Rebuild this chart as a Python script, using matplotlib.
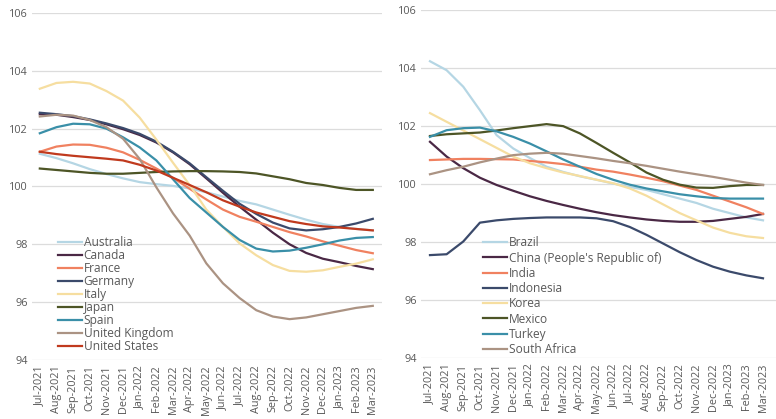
import matplotlib
matplotlib.use('Agg')
import matplotlib.pyplot as plt

months = ['Jul-2021', 'Aug-2021', 'Sep-2021', 'Oct-2021', 'Nov-2021', 'Dec-2021',
          'Jan-2022', 'Feb-2022', 'Mar-2022', 'Apr-2022', 'May-2022', 'Jun-2022',
          'Jul-2022', 'Aug-2022', 'Sep-2022', 'Oct-2022', 'Nov-2022', 'Dec-2022',
          'Jan-2023', 'Feb-2023', 'Mar-2023']

# left panel: advanced economies
australia = [101.13, 100.98, 100.8, 100.6, 100.43, 100.28, 100.15, 100.08, 100.02, 99.93, 99.8,
             99.65, 99.5, 99.38, 99.2, 99.02, 98.85, 98.7, 98.6, 98.53, 98.48]
canada = [102.5, 102.48, 102.4, 102.3, 102.15, 101.98, 101.78, 101.52, 101.18, 100.77, 100.28,
          99.78, 99.3, 98.85, 98.4, 98.0, 97.7, 97.5, 97.38, 97.25, 97.14]
france = [101.2, 101.38, 101.45, 101.44, 101.34, 101.18, 100.92, 100.62, 100.3, 99.92, 99.55,
          99.2, 98.95, 98.78, 98.6, 98.42, 98.27, 98.1, 97.95, 97.8, 97.69]
germany = [102.55, 102.5, 102.43, 102.32, 102.18, 102.02, 101.82, 101.55, 101.2, 100.8, 100.32,
           99.85, 99.4, 99.05, 98.75, 98.55, 98.48, 98.52, 98.6, 98.72, 98.88]
italy = [103.38, 103.58, 103.62, 103.56, 103.3, 102.97, 102.38, 101.62, 100.82, 100.05, 99.2,
         98.6, 98.03, 97.62, 97.28, 97.08, 97.05, 97.1, 97.22, 97.33, 97.48]
japan = [100.62, 100.57, 100.52, 100.47, 100.44, 100.44, 100.47, 100.5, 100.52, 100.53, 100.53,
         100.52, 100.5, 100.45, 100.35, 100.25, 100.12, 100.05, 99.95, 99.88, 99.88]
spain = [101.84, 102.05, 102.17, 102.15, 102.0, 101.7, 101.35, 100.9, 100.25, 99.6, 99.1,
         98.6, 98.15, 97.85, 97.75, 97.78, 97.88, 98.0, 98.13, 98.22, 98.25]
uk = [102.42, 102.48, 102.45, 102.3, 102.05, 101.65, 100.95, 99.97, 99.07, 98.3, 97.34,
      96.65, 96.14, 95.72, 95.5, 95.41, 95.47, 95.58, 95.69, 95.8, 95.87]
us = [101.2, 101.12, 101.06, 101.01, 100.96, 100.9, 100.75, 100.55, 100.3, 100.05, 99.8,
      99.52, 99.3, 99.1, 98.95, 98.8, 98.7, 98.62, 98.58, 98.53, 98.48]

# right panel: emerging economies
brazil = [104.24, 103.93, 103.36, 102.55, 101.69, 101.23, 100.9, 100.6, 100.42, 100.27, 100.15,
          100.02, 99.9, 99.8, 99.65, 99.5, 99.35, 99.15, 99.0, 98.85, 98.75]
china = [101.46, 100.95, 100.55, 100.22, 99.97, 99.77, 99.58, 99.42, 99.28, 99.15, 99.03,
         98.93, 98.85, 98.78, 98.73, 98.7, 98.7, 98.73, 98.8, 98.87, 98.97]
india = [100.83, 100.85, 100.87, 100.87, 100.86, 100.85, 100.8, 100.75, 100.69, 100.6, 100.5,
         100.43, 100.33, 100.22, 100.1, 99.95, 99.8, 99.6, 99.4, 99.2, 98.97]
indonesia = [97.55, 97.58, 98.02, 98.67, 98.75, 98.8, 98.83, 98.85, 98.85, 98.85, 98.82,
             98.72, 98.52, 98.25, 97.95, 97.65, 97.38, 97.15, 96.98, 96.85, 96.75]
korea = [102.45, 102.15, 101.85, 101.55, 101.25, 100.95, 100.72, 100.55, 100.4, 100.28, 100.15,
         100.03, 99.85, 99.6, 99.3, 99.0, 98.75, 98.5, 98.32, 98.2, 98.14]
mexico = [101.66, 101.72, 101.75, 101.78, 101.85, 101.93, 102.0, 102.07, 102.0, 101.75, 101.42,
          101.08, 100.75, 100.4, 100.15, 99.98, 99.88, 99.87, 99.93, 99.97, 99.97]
turkey = [101.63, 101.86, 101.93, 101.95, 101.82, 101.63, 101.4, 101.13, 100.85, 100.6, 100.35,
          100.15, 99.98, 99.85, 99.75, 99.65, 99.58, 99.52, 99.5, 99.5, 99.5]
south_africa = [100.34, 100.48, 100.6, 100.75, 100.88, 101.0, 101.05, 101.08, 101.05, 100.97, 100.89,
                100.8, 100.72, 100.63, 100.53, 100.43, 100.34, 100.25, 100.15, 100.05, 99.97]

left_series = [('Australia', australia, '#b5d6e4'),
               ('Canada', canada, '#4a2845'),
               ('France', france, '#f08160'),
               ('Germany', germany, '#3b4a6b'),
               ('Italy', italy, '#f6dea0'),
               ('Japan', japan, '#4d5526'),
               ('Spain', spain, '#3a8fa8'),
               ('United Kingdom', uk, '#ab9383'),
               ('United States', us, '#c03a1e')]

right_series = [('Brazil', brazil, '#b5d6e4'),
                ('China (People\'s Republic of)', china, '#4a2845'),
                ('India', india, '#f08160'),
                ('Indonesia', indonesia, '#3b4a6b'),
                ('Korea', korea, '#f6dea0'),
                ('Mexico', mexico, '#4d5526'),
                ('Turkey', turkey, '#3a8fa8'),
                ('South Africa', south_africa, '#ab9383')]

plt.rcParams['font.family'] = ['Open Sans', 'DejaVu Sans']
text_col = '#595959'

fig = plt.figure(figsize=(7.76, 4.19), dpi=100)
ax1 = fig.add_axes([0.041, 0.141, 0.451, 0.828])
ax2 = fig.add_axes([0.5425, 0.1456, 0.4575, 0.830])

x = list(range(len(months)))


def style(ax, xlo, xhi):
    ax.set_ylim(94, 106)
    ax.set_xlim(xlo, xhi)
    ax.set_yticks([94, 96, 98, 100, 102, 104, 106])
    ax.set_xticks(x)
    ax.set_xticklabels(months, rotation=90)
    ax.tick_params(axis='both', length=0, colors=text_col, labelsize=7.8)
    ax.tick_params(axis='x', pad=4)
    ax.tick_params(axis='y', pad=3)
    ax.grid(axis='y', color='#dcdcdc', linewidth=0.9)
    ax.set_axisbelow(True)
    for s in ax.spines.values():
        s.set_visible(False)


for name, vals, col in left_series:
    ax1.plot(x, vals, color=col, linewidth=1.6, label=name)
for name, vals, col in right_series:
    ax2.plot(x, vals, color=col, linewidth=1.6, label=name)

style(ax1, -0.48, 20.54)
style(ax2, -0.54, 20.78)

leg1 = ax1.legend(loc='upper left', bbox_to_anchor=(0.075, 0.357), frameon=False,
                  fontsize=8.6, handlelength=2.0, handletextpad=0.15,
                  labelspacing=0.0, borderaxespad=0, borderpad=0)
leg2 = ax2.legend(loc='upper left', bbox_to_anchor=(0.175, 0.35), frameon=False,
                  fontsize=8.6, handlelength=2.0, handletextpad=0.15,
                  labelspacing=0.19, borderaxespad=0, borderpad=0)
for leg in (leg1, leg2):
    for t in leg.get_texts():
        t.set_color(text_col)

fig.savefig('out.png', dpi=100)
